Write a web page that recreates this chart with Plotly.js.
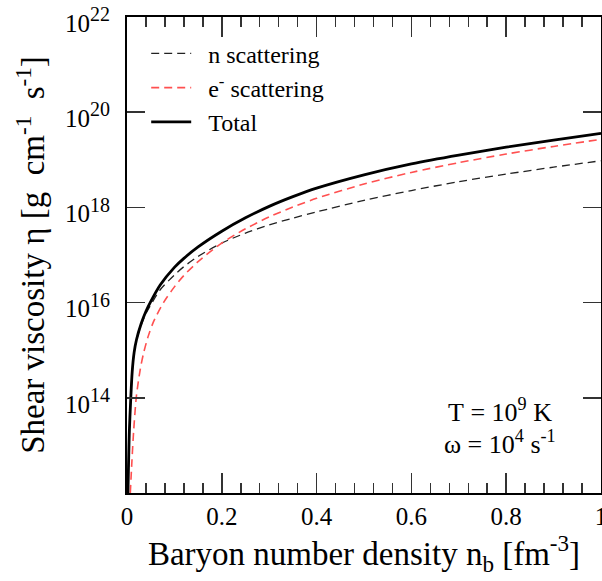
<!DOCTYPE html>
<html>
<head>
<meta charset="utf-8">
<script src="https://cdn.plot.ly/plotly-3.0.1.min.js"></script>
<style>html,body{margin:0;padding:0;background:#fff;}#plot{width:602px;height:581px;}</style>
</head>
<body>
<div id="plot"></div>
<script>
// Baryon number density n_b [fm^-3]
const xTotal = [0.002, 0.005, 0.008, 0.011, 0.015, 0.02, 0.03, 0.04, 0.05, 0.07, 0.1, 0.12, 0.15, 0.2, 0.25, 0.3, 0.35, 0.4, 0.5, 0.6, 0.7, 0.8, 0.9, 1.0];
// Shear viscosity [g cm^-1 s^-1]
const etaTotal = [1e12, 2.0e13, 1e14, 3.55e14, 8.9e14, 1.66e15, 3.63e15, 6.6e15, 1.05e16, 2.34e16, 5.5e16, 8.5e16, 1.48e17, 3.16e17, 6.03e17, 1.05e18, 1.68e18, 2.54e18, 4.84e18, 8.22e18, 1.26e19, 1.84e19, 2.6e19, 3.59e19];

const xN = [0.002, 0.005, 0.008, 0.011, 0.015, 0.02, 0.03, 0.04, 0.05, 0.07, 0.1, 0.12, 0.15, 0.2, 0.25, 0.3, 0.35, 0.4, 0.5, 0.6, 0.7, 0.8, 0.9, 1.0];
const etaN = [1e12, 2.0e13, 1e14, 3.55e14, 8.9e14, 1.62e15, 3.39e15, 5.89e15, 8.9e15, 1.86e16, 3.8e16, 5.69e16, 9.33e16, 1.78e17, 2.88e17, 4.27e17, 5.96e17, 8.04e17, 1.4e18, 2.26e18, 3.47e18, 5.01e18, 7.0e18, 9.55e18];

const xE = [0.007, 0.01, 0.014, 0.02, 0.028, 0.035, 0.045, 0.056, 0.077, 0.1, 0.12, 0.15, 0.2, 0.25, 0.3, 0.35, 0.4, 0.5, 0.6, 0.7, 0.8, 0.9, 1.0];
const etaE = [1e12, 3.98e12, 2.0e13, 1.12e14, 3.98e14, 8.7e14, 2.0e15, 3.98e15, 1e16, 2.14e16, 3.72e16, 7.24e16, 1.78e17, 3.55e17, 6.31e17, 1.02e18, 1.55e18, 3.09e18, 5.43e18, 8.71e18, 1.32e19, 1.91e19, 2.69e19];

const seriesNames = ["n scattering", "e<sup>-</sup> scattering", "Total"];
const yTickVals = [1e14, 1e16, 1e18, 1e20, 1e22];
const yTickText = ["14", "16", "18", "20", "22"].map(function (e) { return "10<sup><span style='font-size:20px'>" + e + "</span></sup>"; });
const xTickVals = [0, 0.2, 0.4, 0.6, 0.8, 1];
const xTickText = ["0", "0.2", "0.4", "0.6", "0.8", "1"];

const F = "Liberation Serif, serif";
const pad = "\u00a0\u00a0";

const traces = [
  {x: xN, y: etaN, name: pad + seriesNames[0], mode: 'lines', legendgroup: 'a',
   line: {color: '#222', width: 1.3, dash: '8px,5px', shape: 'spline', smoothing: 0.8}},
  {x: xE, y: etaE, name: pad + seriesNames[1], mode: 'lines', legendgroup: 'b',
   line: {color: '#ff5050', width: 1.6, dash: '8px,5px', shape: 'spline', smoothing: 0.8}},
  {x: xTotal, y: etaTotal, name: pad + seriesNames[2], mode: 'lines', legendgroup: 'c',
   line: {color: '#000', width: 2.8, shape: 'spline', smoothing: 0.8}}
];

const layout = {
  width: 602, height: 581,
  margin: {l: 127, r: 1, t: 17, b: 88},
  paper_bgcolor: '#fff', plot_bgcolor: '#fff',
  font: {family: F, color: '#000'},
  showlegend: true,
  legend: {x: 0.0405, y: 0.970, xanchor: 'left', yanchor: 'top', bgcolor: 'rgba(0,0,0,0)',
           font: {family: F, size: 24, color: '#000'}, itemwidth: 40, tracegroupgap: 0},
  xaxis: {
    range: [0, 1], tickvals: xTickVals, ticktext: xTickText,
    ticks: 'inside', ticklen: 20, tickwidth: 1.5, tickcolor: '#333',
    minor: {dtick: 0.04, ticks: 'inside', ticklen: 10, tickwidth: 1.5, tickcolor: '#333'},
    showline: true, linecolor: '#000', linewidth: 2, mirror: 'ticks',
    showgrid: false, zeroline: false,
    tickfont: {family: F, size: 25, color: '#000'},
    ticklabelstandoff: 0, ticklabeloverflow: 'allow',
    title: {text: 'Baryon number density n<sub>b</sub> [fm<sup>-3</sup>]', font: {family: F, size: 33, color: '#000'}, standoff: 12}
  },
  yaxis: {
    type: 'log', range: [12, 22], tickvals: yTickVals, ticktext: yTickText,
    ticks: 'inside', ticklen: 18, tickwidth: 1.5, tickcolor: '#333',
    showline: true, linecolor: '#000', linewidth: 2, mirror: 'ticks',
    showgrid: false, zeroline: false,
    tickfont: {family: F, size: 25, color: '#000'},
    ticklabelstandoff: 10, ticklabelshift: 6, ticklabeloverflow: 'allow',
    title: {text: 'Shear viscosity η [g  cm<sup>-1</sup>  s<sup>-1</sup>]', font: {family: F, size: 33, color: '#000'}, standoff: 10}
  },
  annotations: [
    {xref: 'paper', yref: 'paper', x: 0.787, y: 0.174, xanchor: 'center', yanchor: 'middle', showarrow: false,
     text: 'T\u00a0=\u00a010<sup>9</sup>\u00a0K', font: {family: F, size: 26, color: '#000'}},
    {xref: 'paper', yref: 'paper', x: 0.787, y: 0.107, xanchor: 'center', yanchor: 'middle', showarrow: false,
     text: 'ω\u00a0=\u00a010<sup>4</sup>\u00a0s<sup>-1</sup>', font: {family: F, size: 26, color: '#000'}}
  ]
};

Plotly.newPlot('plot', traces, layout, {displayModeBar: false, staticPlot: true});
</script>
</body>
</html>
